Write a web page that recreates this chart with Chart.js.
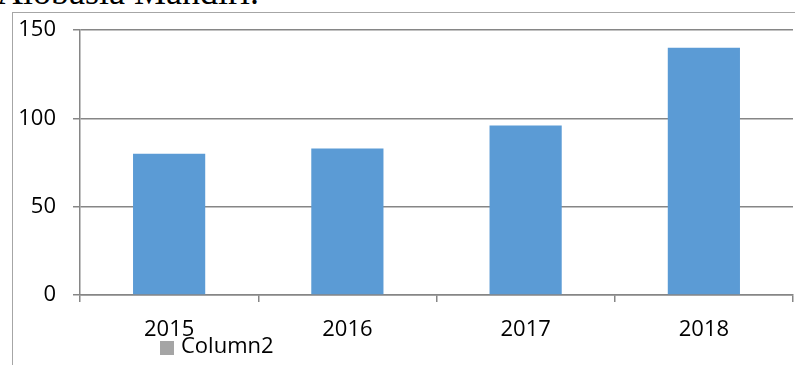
<!DOCTYPE html>
<html lang="id">
<head>
  <meta charset="UTF-8">
  <title>Column2</title>
  <script src="https://cdn.jsdelivr.net/npm/chart.js"></script>
  <style>
    body {
      margin: 0;
      width: 795px;
      height: 365px;
      overflow: hidden;
      background: #fff;
      position: relative;
      font-family: 'Open Sans', 'Noto Sans', sans-serif;
    }
    .caption {
      position: absolute;
      left: -3px;
      top: -26px;
      font-family: 'Liberation Serif', serif;
      font-size: 36px;
      line-height: 36px;
      color: #000;
      white-space: nowrap;
    }
    .frame {
      position: absolute;
      left: 12px;
      top: 12px;
      right: 0;
      bottom: 0;
      border-left: 1.5px solid #a6a6a6;
      border-top: 1.5px solid #a6a6a6;
    }
    #chart {
      position: absolute;
      left: 0;
      top: 0;
    }
    .legend {
      position: absolute;
      left: 160px;
      top: 331px;
      font-size: 22px;
      line-height: 26px;
      color: #000;
    }
    .legend i {
      display: inline-block;
      width: 14px;
      height: 14px;
      background: #a5a5a5;
      margin-right: 7px;
      vertical-align: -2px;
    }
  </style>
</head>
<body>
  <div class="caption">Alobasia Mandiri.</div>
  <div class="frame"></div>
  <canvas id="chart" width="795" height="365"></canvas>
  <div class="legend"><i></i>Column2</div>

  <script>
    const years = ['2015', '2016', '2017', '2018'];
    const column2 = [80, 83, 96, 140];
    const yTicks = [0, 50, 100, 150];

    const axisGray = '#868686';
    const tickFont = { family: "'Open Sans', 'Noto Sans', sans-serif", size: 22 };

    new Chart(document.getElementById('chart'), {
      type: 'bar',
      data: {
        labels: years,
        datasets: [{
          label: 'Column2',
          data: column2,
          backgroundColor: '#5b9bd5',
          barPercentage: 0.405,
          categoryPercentage: 1
        }]
      },
      options: {
        responsive: false,
        maintainAspectRatio: false,
        animation: false,
        devicePixelRatio: 1,
        layout: { padding: { left: 0, right: 2, top: 28, bottom: 0 } },
        plugins: { legend: { display: false }, tooltip: { enabled: false } },
        scales: {
          x: {
            grid: {
              drawOnChartArea: false,
              drawTicks: true,
              tickLength: 7,
              color: axisGray,
              lineWidth: 1.5
            },
            border: { display: true, color: axisGray, width: 1.5 },
            ticks: { color: '#000', padding: 15, font: tickFont },
            afterFit: s => { s.height = 70; }
          },
          y: {
            min: 0,
            max: 150,
            afterBuildTicks: s => { s.ticks = yTicks.map(v => ({ value: v })); },
            grid: {
              drawTicks: true,
              tickLength: 7,
              color: axisGray,
              lineWidth: 1.5
            },
            border: { display: true, color: axisGray, width: 1.5 },
            ticks: { color: '#000', padding: 17, font: tickFont },
            afterFit: s => { s.width = 80; }
          }
        }
      }
    });
  </script>
</body>
</html>
